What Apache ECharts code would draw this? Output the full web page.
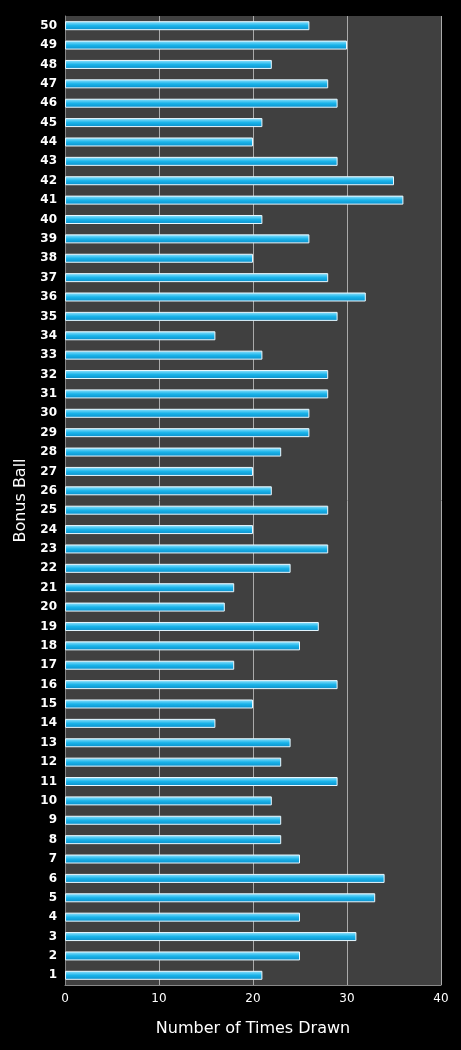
<!DOCTYPE html>
<html><head><meta charset="utf-8">
<script src="https://cdn.jsdelivr.net/npm/echarts@6/dist/echarts.min.js"></script>
<style>html,body{margin:0;padding:0;background:#000}#c{width:461px;height:1050px}</style>
</head><body><div id="c"></div>
<script>
const categories = Array.from({length:50},(_,i)=>String(i+1));
const timesDrawn = [21,25,31,25,33,34,25,23,23,22,29,23,24,16,20,29,18,25,27,17,18,24,28,20,28,22,20,23,26,26,28,28,21,16,29,32,28,20,26,21,36,35,29,20,21,29,28,22,30,26];
const xTicks = [0,10,20,30,40];
const chart = echarts.init(document.getElementById('c'));
chart.setOption({
  backgroundColor:'#000',
  animation:false,
  grid:{left:65,right:20,top:16,bottom:65,show:true,backgroundColor:'#404040',borderWidth:0},
  xAxis:{type:'value',min:0,max:40,interval:10,
    name:'Number of Times Drawn',nameLocation:'middle',nameGap:36,
    nameTextStyle:{color:'#fff',fontSize:16,fontFamily:'DejaVu Sans'},
    axisLabel:{color:'#fff',fontSize:12,fontFamily:'DejaVu Sans'},
    axisLine:{show:true,lineStyle:{color:'#888'}},axisTick:{show:false},
    splitLine:{lineStyle:{color:'#aaa',width:1}}},
  yAxis:{type:'category',data:categories,
    name:'Bonus Ball',nameLocation:'middle',nameGap:36,nameRotate:90,
    nameTextStyle:{color:'#fff',fontSize:16,fontFamily:'DejaVu Sans'},
    axisLabel:{color:'#fff',fontSize:12,fontWeight:'bold',fontFamily:'DejaVu Sans',interval:0},
    axisLine:{show:true,lineStyle:{color:'#888'}},axisTick:{show:false}},
  series:[{type:'bar',data:timesDrawn,barWidth:9,
    itemStyle:{borderColor:'#e8f8ff',borderWidth:1,
      color:new echarts.graphic.LinearGradient(0,0,0,1,[{offset:0,color:'#9be6ff'},{offset:0.5,color:'#1ab4ea'},{offset:1,color:'#0a8cc8'}])}}]
});
</script></body></html>
